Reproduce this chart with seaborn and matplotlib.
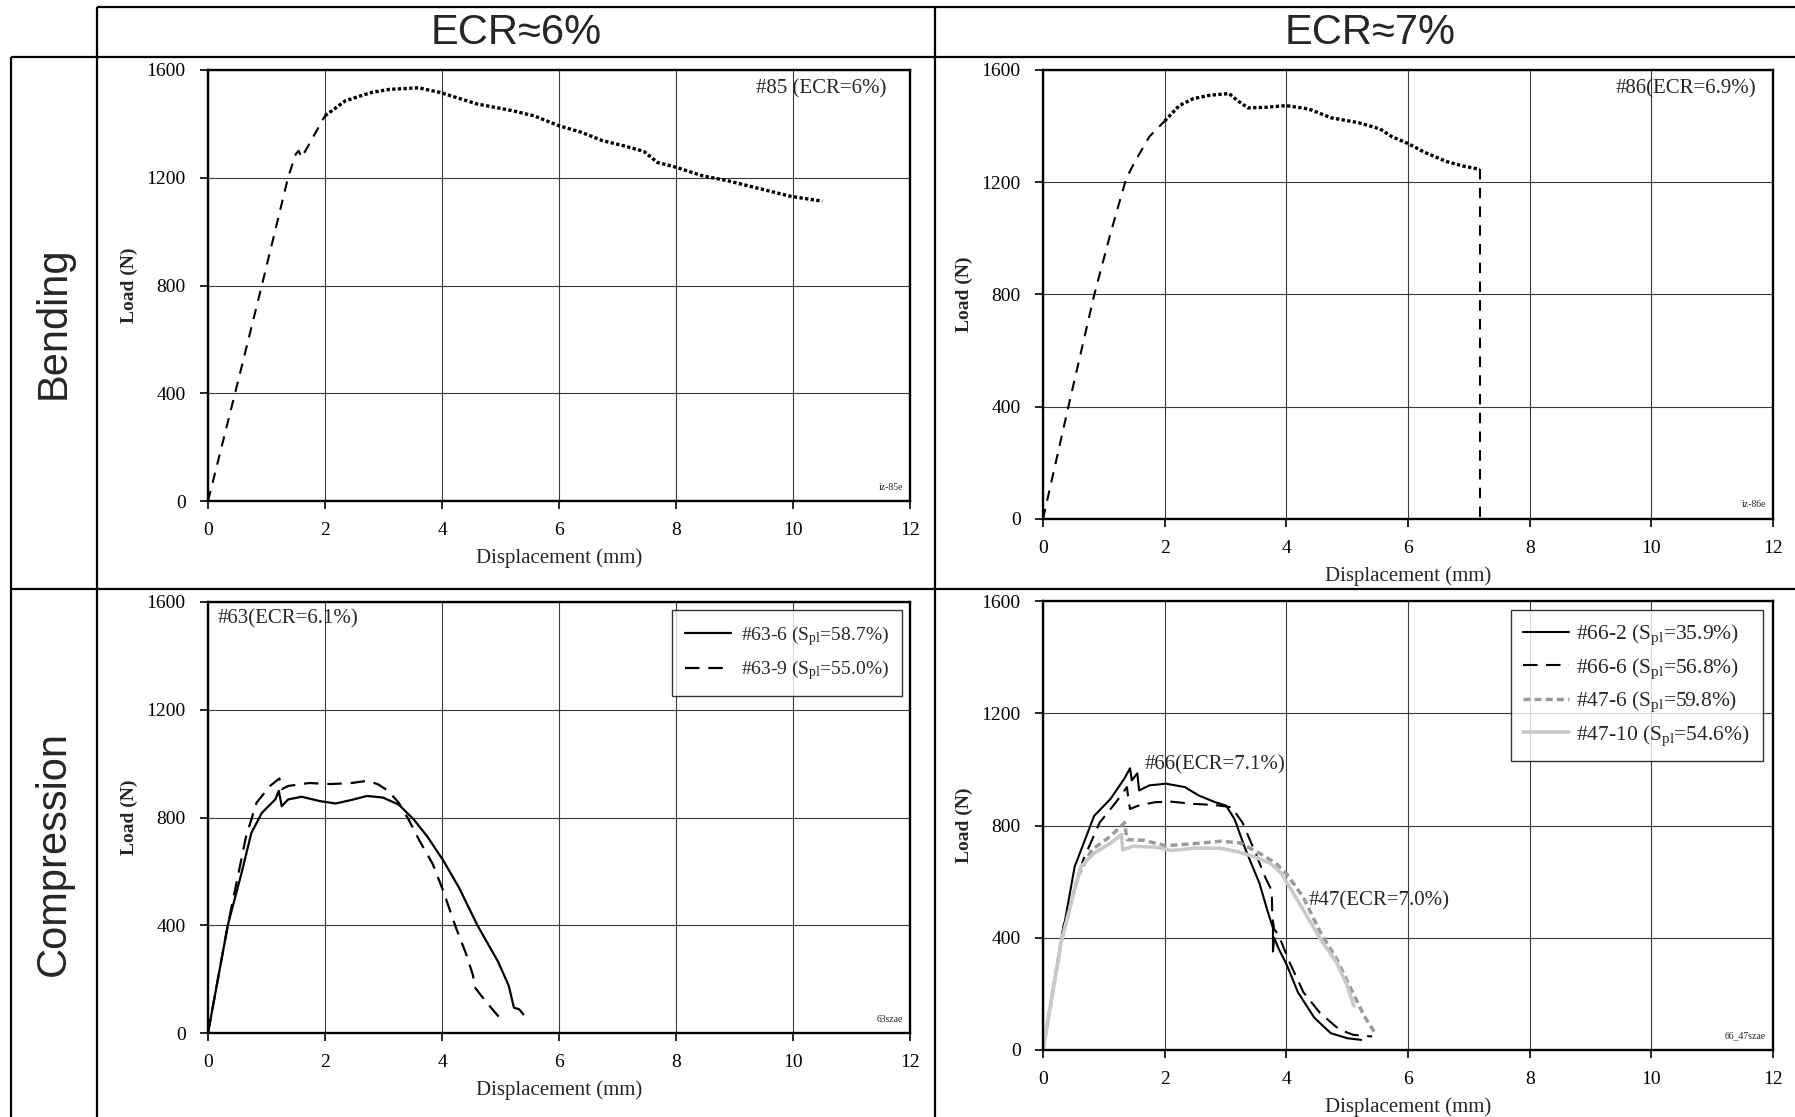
import matplotlib
matplotlib.use("Agg")
import matplotlib.pyplot as plt
import seaborn as sns
import pandas as pd
from matplotlib.lines import Line2D

# ---------------- data ----------------
col_titles = ["ECR≈6%", "ECR≈7%"]
row_titles = ["Bending", "Compression"]
x_ticks = [0, 2, 4, 6, 8, 10, 12]
y_ticks = [0, 400, 800, 1200, 1600]

# Bending #85 (ECR=6%)
b85_x = [0, 0.46, 0.92, 1.37, 1.50, 1.55, 1.60, 2.0, 2.35, 2.8, 3.1, 3.6, 3.96, 4.6,
         5.2, 5.57, 6.0, 6.38, 6.74, 7.1, 7.45, 7.68, 8.0, 8.44, 8.88, 9.33, 9.96, 10.5]
b85_y = [0, 398, 800, 1202, 1288, 1300, 1275, 1430, 1486, 1517, 1528, 1534, 1517, 1474,
         1449, 1430, 1393, 1369, 1338, 1319, 1298, 1257, 1239, 1208, 1189, 1165, 1131, 1113]

# Bending #86 (ECR=6.9%)
b86_x = [0, 0.42, 0.84, 1.11, 1.37, 1.52, 1.75, 2.0, 2.24, 2.47, 2.74, 3.06, 3.19, 3.37,
         3.65, 4.0, 4.37, 4.73, 5.19, 5.54, 5.73, 6.0, 6.27, 6.63, 6.9, 7.18, 7.18]
b86_y = [0, 403, 797, 1018, 1215, 1277, 1363, 1418, 1473, 1498, 1510, 1516, 1492, 1465,
         1467, 1473, 1461, 1430, 1412, 1390, 1363, 1338, 1307, 1274, 1258, 1246, 0]

# Compression #63
c63_6_x = [0, 0.34, 0.57, 0.74, 0.92, 1.15, 1.21, 1.26, 1.37, 1.6, 1.91, 2.18, 2.45, 2.72,
           2.99, 3.26, 3.52, 3.75, 4.02, 4.29, 4.6, 4.96, 5.14, 5.23, 5.32, 5.39]
c63_6_y = [0, 402, 591, 742, 817, 867, 899, 842, 867, 877, 861, 852, 865, 880,
           874, 848, 792, 729, 641, 540, 402, 264, 176, 94, 88, 69]
c63_9_x = [0, 0.34, 0.65, 0.83, 1.06, 1.22, 1.26, 1.37, 1.73, 2.09, 2.45, 2.72, 2.9, 3.08,
           3.26, 3.43, 3.61, 3.84, 4.02, 4.24, 4.42, 4.53, 4.56, 4.74, 4.96, 5.03]
c63_9_y = [0, 402, 729, 855, 917, 945, 905, 917, 928, 924, 928, 936, 924, 899,
           855, 792, 716, 628, 528, 390, 289, 214, 170, 119, 63, 38]

# Compression #66 / #47
c66_2_x = [0, 0.3, 0.52, 0.84, 1.11, 1.34, 1.43, 1.46, 1.55, 1.58, 1.75, 2.02, 2.33, 2.56,
           2.83, 3.01, 3.15, 3.33, 3.56, 3.69, 3.78, 3.78, 3.80, 3.87, 4.01, 4.19, 4.46,
           4.73, 5.0, 5.23]
c66_2_y = [0, 387, 653, 834, 895, 968, 1004, 961, 986, 925, 943, 949, 937, 907,
           883, 871, 822, 714, 593, 496, 435, 351, 400, 363, 302, 206, 115,
           60, 42, 36]
c66_6_x = [0, 0.34, 0.66, 0.93, 1.2, 1.38, 1.40, 1.43, 1.57, 1.84, 2.11, 2.47, 2.83, 3.1,
           3.28, 3.47, 3.65, 3.76, 3.77, 3.80, 3.87, 4.05, 4.28, 4.55, 4.87, 5.1, 5.41]
c66_6_y = [0, 447, 677, 810, 883, 937, 901, 859, 871, 883, 885, 877, 873, 865,
           810, 714, 617, 568, 472, 430, 411, 314, 206, 133, 73, 54, 48]
c47_6_x = [0, 0.3, 0.57, 0.8, 1.11, 1.34, 1.38, 1.66, 2.02, 2.47, 2.92, 3.24, 3.56, 3.83,
           4.0, 4.28, 4.55, 4.82, 5.09, 5.28, 5.46]
c47_6_y = [0, 387, 617, 713, 762, 810, 750, 747, 728, 735, 744, 738, 701, 665,
           629, 544, 423, 327, 206, 121, 60]
c47_10_x = [0, 0.3, 0.62, 0.84, 1.11, 1.29, 1.31, 1.48, 1.84, 2.11, 2.47, 2.92, 3.19, 3.47,
            3.74, 3.92, 4.19, 4.55, 4.82, 5.0, 5.11]
c47_10_y = [0, 387, 653, 701, 737, 768, 713, 726, 723, 711, 719, 719, 707, 689,
            665, 629, 532, 399, 314, 230, 157]

legend_63 = ["#63-6 ($\\mathrm{S}_{\\mathrm{pl}}$=58.7%)", "#63-9 ($\\mathrm{S}_{\\mathrm{pl}}$=55.0%)"]
legend_66 = ["#66-2 ($\\mathrm{S}_{\\mathrm{pl}}$=35.9%)", "#66-6 ($\\mathrm{S}_{\\mathrm{pl}}$=56.8%)",
             "#47-6 ($\\mathrm{S}_{\\mathrm{pl}}$=59.8%)", "#47-10 ($\\mathrm{S}_{\\mathrm{pl}}$=54.6%)"]

# ---------------- style ----------------
sns.set_theme(style="ticks")
plt.rcParams["font.family"] = ["Liberation Serif", "DejaVu Serif"]
plt.rcParams["mathtext.fontset"] = "custom"
plt.rcParams["mathtext.rm"] = "Liberation Serif"
plt.rcParams["mathtext.it"] = "Liberation Serif:italic"
plt.rcParams["axes.linewidth"] = 1.7

W, H = 1795, 1117
fig = plt.figure(figsize=(W / 100, H / 100), dpi=100)
fig.patch.set_facecolor("white")


def fx(p):
    return p / W


def fy(p):
    return 1 - p / H


def make_axes(left, right, top, bottom):
    return fig.add_axes([fx(left), fy(bottom), (right - left) / W, (bottom - top) / H])


def draw(ax, x, y, **kw):
    df = pd.DataFrame({"Displacement (mm)": x, "Load (N)": y})
    sns.lineplot(data=df, x="Displacement (mm)", y="Load (N)", ax=ax,
                 estimator=None, sort=False, **kw)


def style_axes(ax, tag):
    ax.set_xlim(0, 12)
    ax.set_ylim(0, 1600)
    ax.set_xticks(x_ticks)
    ax.set_yticks(y_ticks)
    ax.grid(True, color="#3a3a3a", lw=0.8)
    ax.set_axisbelow(True)
    for s in ax.spines.values():
        s.set_linewidth(1.7)
        s.set_color("black")
    ax.tick_params(axis="both", direction="out", length=6, width=1.2,
                   colors="black", labelsize=14)
    ax.tick_params(axis="x", pad=9)
    ax.tick_params(axis="y", pad=10)
    ax.set_xlabel("Displacement (mm)", fontsize=15, labelpad=7)
    ax.set_ylabel("Load (N)", fontsize=14, fontweight="bold", labelpad=6)
    ax.text(0.99, 0.032, tag, transform=ax.transAxes, ha="right", va="center", fontsize=7)


ax_tl = make_axes(208, 910, 70, 501)
ax_tr = make_axes(1043, 1773, 70, 519)
ax_bl = make_axes(208, 910, 602, 1033)
ax_br = make_axes(1043, 1773, 601, 1050)

# Bending #85
draw(ax_tl, b85_x[:8], b85_y[:8], color="black", lw=1.5, linestyle=(0, (5, 4)))
draw(ax_tl, b85_x[7:], b85_y[7:], color="black", lw=2.4, linestyle=(0, (1.0, 0.7)))
style_axes(ax_tl, "iz-85e")
ax_tl.text(11.6, 1530, "#85 (ECR=6%)", ha="right", va="center", fontsize=15)

# Bending #86
draw(ax_tr, b86_x[:8], b86_y[:8], color="black", lw=1.5, linestyle=(0, (5, 4)))
draw(ax_tr, b86_x[7:26], b86_y[7:26], color="black", lw=2.4, linestyle=(0, (1.0, 0.7)))
draw(ax_tr, b86_x[25:], b86_y[25:], color="black", lw=1.5, linestyle=(0, (5, 4)))
style_axes(ax_tr, "iz-86e")
ax_tr.text(11.72, 1532, "#86(ECR=6.9%)", ha="right", va="center", fontsize=15)

# Compression #63
draw(ax_bl, c63_6_x, c63_6_y, color="black", lw=1.6, linestyle="-", label=legend_63[0])
draw(ax_bl, c63_9_x, c63_9_y, color="black", lw=1.6, linestyle=(0, (6.5, 4)), label=legend_63[1])
style_axes(ax_bl, "63szae")
ax_bl.text(0.16, 1537, "#63(ECR=6.1%)", ha="left", va="center", fontsize=15)
leg = ax_bl.legend(loc="upper right", bbox_to_anchor=(0.989, 0.981), borderaxespad=0,
                   fontsize=14, frameon=True, fancybox=False, edgecolor="black",
                   handlelength=2.35, handletextpad=0.5, labelspacing=0.55, borderpad=0.7)
leg.get_frame().set_linewidth(1.0)

# Compression #66 / #47
draw(ax_br, c66_2_x, c66_2_y, color="black", lw=1.5, linestyle="-", label=legend_66[0])
draw(ax_br, c66_6_x, c66_6_y, color="black", lw=1.5, linestyle=(0, (7, 4)), label=legend_66[1])
draw(ax_br, c47_6_x, c47_6_y, color="#9a9a9a", lw=2.5, linestyle=(0, (2, 1.2)), label=legend_66[2])
draw(ax_br, c47_10_x, c47_10_y, color="#c9c9c9", lw=2.6, linestyle="-", label=legend_66[3])
style_axes(ax_br, "66_47szae")
ax_br.text(1.67, 1016, "#66(ECR=7.1%)", ha="left", va="center", fontsize=15)
ax_br.text(4.36, 531, "#47(ECR=7.0%)", ha="left", va="center", fontsize=15)
leg = ax_br.legend(loc="upper right", bbox_to_anchor=(0.986, 0.98), borderaxespad=0,
                   fontsize=15.5, frameon=True, fancybox=False, edgecolor="black",
                   handlelength=2.1, handletextpad=0.35, labelspacing=0.42, borderpad=0.6)
leg.get_frame().set_linewidth(1.0)

# ---------------- table frame ----------------
def hline(y, x0, x1):
    fig.add_artist(Line2D([fx(x0), fx(x1)], [fy(y), fy(y)], transform=fig.transFigure,
                          color="black", lw=1.6, solid_capstyle="butt"))


def vline(x, y0, y1):
    fig.add_artist(Line2D([fx(x), fx(x)], [fy(y0), fy(y1)], transform=fig.transFigure,
                          color="black", lw=1.6, solid_capstyle="butt"))


hline(7, 97, W)
hline(57, 11, W)
hline(589, 11, W)
vline(11, 57, H)
vline(97, 7, H)
vline(935, 7, H)

head_font = ["Liberation Sans", "DejaVu Sans"]
fig.text(fx(516), fy(33), col_titles[0], ha="center", va="center", fontsize=30, family=head_font)
fig.text(fx(1370), fy(33), col_titles[1], ha="center", va="center", fontsize=30, family=head_font)
fig.text(fx(54), fy(323), row_titles[0], ha="center", va="center", rotation=90,
         fontsize=30, family=head_font)
fig.text(fx(54), fy(853), row_titles[1], ha="center", va="center", rotation=90,
         fontsize=30, family=head_font)

fig.savefig("out.png", dpi=100, facecolor="white")
